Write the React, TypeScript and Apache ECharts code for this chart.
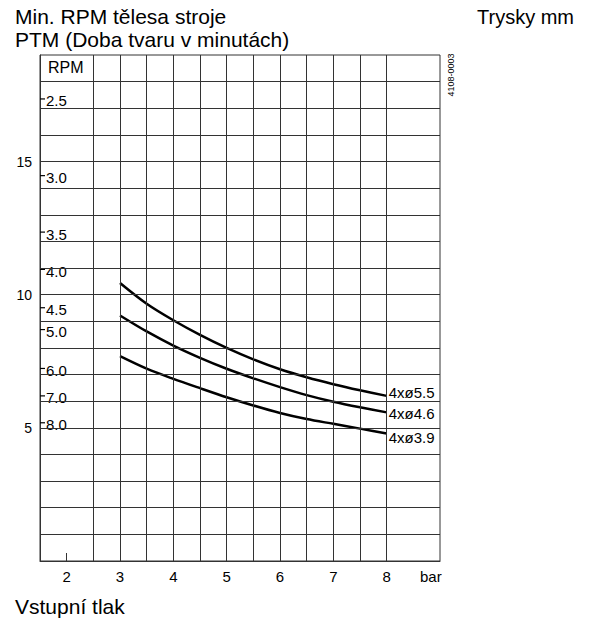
import React, { useEffect, useRef } from "react";
import * as echarts from "echarts";

// Inlet pressure (bar) sample points
const pressure = [3, 3.5, 4, 4.5, 5, 5.5, 6, 6.5, 7, 7.5, 8];
// PTM (minutes) per nozzle size
const ptm55 = [10.44, 9.66, 9.04, 8.49, 8.0, 7.57, 7.2, 6.9, 6.64, 6.41, 6.2];
const ptm46 = [9.22, 8.62, 8.09, 7.63, 7.22, 6.86, 6.53, 6.23, 5.98, 5.77, 5.58];
const ptm39 = [7.69, 7.22, 6.84, 6.49, 6.15, 5.84, 5.56, 5.33, 5.15, 4.97, 4.79];
const seriesNames = ["4xø5.5", "4xø4.6", "4xø3.9"];

// RPM scale (inner left) labels and their PTM positions
const rpmLabels = ["2.5", "3.0", "3.5", "4.0", "4.5", "5.0", "6.0", "7.0", "8.0"];
const rpmTickPtm = [17.35, 14.47, 12.35, 10.95, 9.51, 8.69, 7.23, 6.2, 5.19];

// Axis ticks / grid
const xLabelValues = [2, 3, 4, 5, 6, 7, 8];
const xTickValues = [2];
const xGridValues = [2.5, 3, 3.5, 4, 4.5, 5, 5.5, 6, 6.5, 7, 7.5, 8];
const yLabelValues = [5, 10, 15];
const yGridValues = [1, 2, 3, 4, 5, 6, 7, 8, 9, 10, 11, 12, 13, 14, 15, 16, 17, 18];

const FONT = "'Liberation Sans', Arial, Helvetica, sans-serif";
const LINE = "#333";

export default function App() {
  const ref = useRef<HTMLDivElement>(null);

  useEffect(() => {
    if (!ref.current) return;
    const chart = echarts.init(ref.current, null, { renderer: "svg" });

    const mkData = (vals: number[]) => pressure.map((p, i) => [p, vals[i]]);
    const curves = [ptm55, ptm46, ptm39];
    const labelOffsets = [[0, -3], [0, 1], [0, 4]];

    const option: any = {
      animation: false,
      textStyle: { fontFamily: FONT },
      grid: {
        left: 40,
        right: 156,
        top: 55,
        bottom: 60,
        show: true,
        borderColor: LINE,
        borderWidth: 1,
      },
      xAxis: {
        type: "value",
        min: 1.5,
        max: 9,
        interval: 0.5,
        axisLine: { show: true, lineStyle: { color: LINE, width: 1 } },
        axisTick: {
          show: true,
          inside: true,
          length: 8,
          customValues: xTickValues,
          lineStyle: { color: LINE, width: 1 },
        },
        axisLabel: {
          customValues: xLabelValues,
          color: "#000",
          fontSize: 15,
          margin: 8,
          fontFamily: FONT,
        },
        splitLine: { show: false },
      },
      yAxis: {
        type: "value",
        min: 0,
        max: 19,
        interval: 1,
        axisLine: { show: true, lineStyle: { color: LINE, width: 1 } },
        axisTick: { show: false },
        axisLabel: {
          customValues: yLabelValues,
          color: "#000",
          fontSize: 14,
          margin: 8,
          fontFamily: FONT,
        },
        splitLine: { show: false },
      },
      graphic: [
        { type: "text", left: 15, top: 6, style: { text: "Min. RPM tělesa stroje", fontSize: 21, fill: "#000", fontFamily: FONT } },
        { type: "text", left: 15, top: 29, style: { text: "PTM (Doba tvaru v minutách)", fontSize: 21, fill: "#000", fontFamily: FONT } },
        { type: "text", left: 477, top: 7, style: { text: "Trysky mm", fontSize: 20, fill: "#000", fontFamily: FONT } },
        { type: "text", left: 15, top: 596, style: { text: "Vstupní tlak", fontSize: 21, fill: "#000", fontFamily: FONT } },
        { type: "text", left: 48, top: 59, style: { text: "RPM", fontSize: 16, fill: "#000", fontFamily: FONT } },
        { type: "text", left: 420, top: 569, style: { text: "bar", fontSize: 15, fill: "#000", fontFamily: FONT } },
        {
          type: "text",
          x: 451,
          y: 75,
          rotation: Math.PI / 2,
          style: { text: "4108-0003", fontSize: 9, fill: "#000", fontFamily: FONT, align: "center", verticalAlign: "middle" },
        },
      ],
      series: [
        {
          type: "line",
          name: "grid",
          data: [],
          silent: true,
          markLine: {
            silent: true,
            symbol: "none",
            label: { show: false },
            lineStyle: { color: LINE, width: 1, type: "solid" },
            emphasis: { disabled: true },
            data: [
              ...xGridValues.map((v) => ({ xAxis: v })),
              ...yGridValues.map((v) => ({ yAxis: v })),
            ],
          },
        },
        {
          type: "custom",
          name: "rpm",
          silent: true,
          clip: false,
          data: rpmTickPtm.map((v) => [1.5, v]),
          renderItem: (params: any, api: any) => {
            const p = api.coord([api.value(0), api.value(1)]);
            return {
              type: "group",
              children: [
                {
                  type: "line",
                  shape: { x1: p[0], y1: p[1], x2: p[0] + 5, y2: p[1] },
                  style: { stroke: "#000", lineWidth: 1.2 },
                },
                {
                  type: "text",
                  x: p[0] + 6,
                  y: p[1] + 2,
                  style: {
                    text: rpmLabels[params.dataIndex],
                    fontSize: 15,
                    fill: "#000",
                    fontFamily: FONT,
                    verticalAlign: "middle",
                    align: "left",
                  },
                },
              ],
            };
          },
        },
        ...curves.map((vals, i) => ({
          type: "line",
          name: seriesNames[i],
          data: mkData(vals),
          smooth: 0.3,
          symbol: "none",
          silent: true,
          lineStyle: { color: "#000", width: 2.5 },
          endLabel: {
            show: true,
            formatter: seriesNames[i],
            color: "#000",
            fontSize: 15,
            fontFamily: FONT,
            distance: 2,
            offset: labelOffsets[i],
          },
        })),
      ],
    };

    chart.setOption(option);
    return () => chart.dispose();
  }, []);

  return (
    <div
      ref={ref}
      style={{ position: "absolute", left: 0, top: 0, width: 596, height: 621, background: "#fff" }}
    />
  );
}
